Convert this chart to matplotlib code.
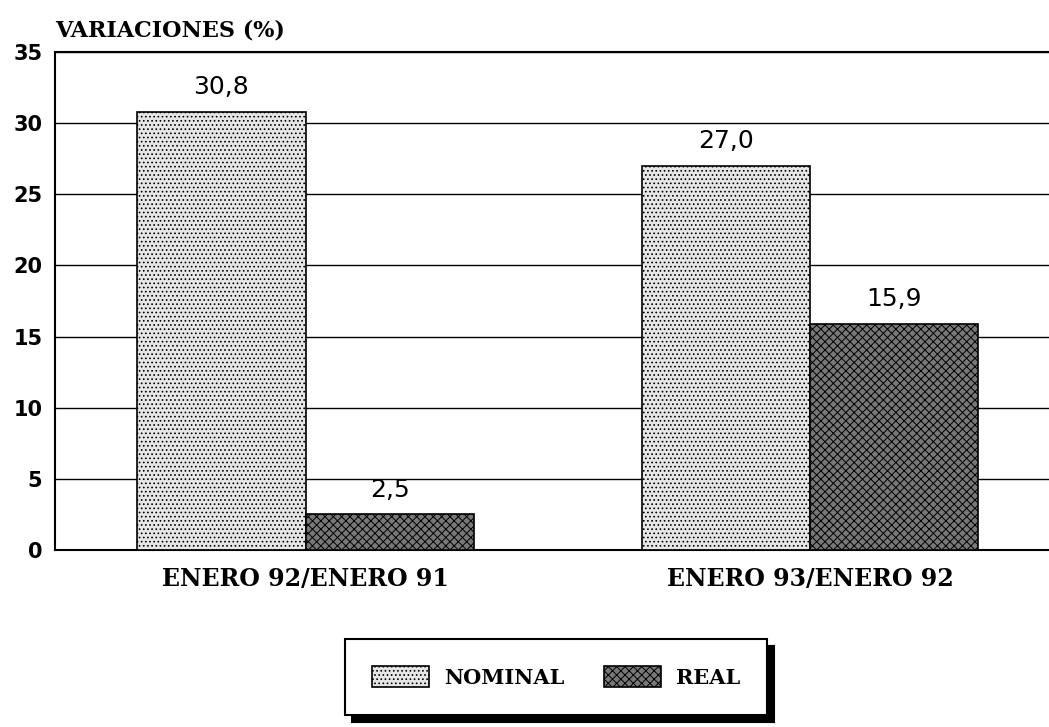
import matplotlib
matplotlib.use("Agg")
import matplotlib.pyplot as plt
import numpy as np

# values
groups = ["ENERO 92/ENERO 91", "ENERO 93/ENERO 92"]
nominal = [30.8, 27.0]
real = [2.5, 15.9]
nominal_labels = ["30,8", "27,0"]
real_labels = ["2,5", "15,9"]
yticks = [0, 5, 10, 15, 20, 25, 30, 35]

serif = ["DejaVu Serif"]
sans = ["DejaVu Sans"]

plt.rcParams["hatch.linewidth"] = 0.7

fig = plt.figure(figsize=(10.49, 7.27), dpi=100)
ax = fig.add_axes([0.0524, 0.2435, 0.9476, 0.685])

centers = np.array([0.0, 3.0])
w = 1.0

plt.rcParams["hatch.color"] = "#9a9a9a"
b1 = ax.bar(centers - w / 2, nominal, w, color="#e6e6e6", edgecolor="black",
            linewidth=1.2, hatch="....", label="NOMINAL", zorder=3)
plt.rcParams["hatch.color"] = "#303030"
b2 = ax.bar(centers + w / 2, real, w, color="#787878", edgecolor="black",
            linewidth=1.2, hatch="xxxx", label="REAL", zorder=3)

for x, v, t in zip(centers - w / 2, nominal, nominal_labels):
    ax.annotate(t, (x, v), xytext=(0, 9), textcoords="offset points",
                ha="center", va="bottom", fontsize=18, family=sans)
for x, v, t in zip(centers + w / 2, real, real_labels):
    ax.annotate(t, (x, v), xytext=(0, 9), textcoords="offset points",
                ha="center", va="bottom", fontsize=18, family=sans)

ax.set_xlim(-1.49, 4.42)
ax.set_ylim(0, 35)
ax.set_yticks(yticks)
ax.set_yticklabels([str(t) for t in yticks], fontsize=15, fontweight="bold",
                   family=sans)
ax.set_xticks(centers)
ax.set_xticklabels(groups, fontsize=17, fontweight="bold", family=serif)
ax.tick_params(axis="y", length=0, pad=9)
ax.tick_params(axis="x", length=0, pad=12)
ax.grid(axis="y", color="black", linewidth=1.0, zorder=0)
ax.set_axisbelow(True)
for s in ["left", "bottom", "top"]:
    ax.spines[s].set_linewidth(1.5)
ax.spines["right"].set_visible(False)

fig.text(55 / 1049, 1 - 30 / 727, "VARIACIONES (%)", fontsize=16,
         fontweight="bold", family=serif, ha="left", va="center")

leg = fig.legend(handles=[b1, b2], loc="center",
                 bbox_to_anchor=(556 / 1049, 1 - 677 / 727), ncol=2,
                 prop={"family": serif, "weight": "bold", "size": 15},
                 frameon=True, fancybox=False, edgecolor="black",
                 handlelength=2.75, handleheight=1.15, columnspacing=1.9,
                 handletextpad=0.7, borderpad=1.3, borderaxespad=0,
                 shadow={"color": "black", "alpha": 1, "ox": 5, "oy": -5})
leg.get_frame().set_linewidth(1.5)

fig.savefig("out.png", dpi=100)
